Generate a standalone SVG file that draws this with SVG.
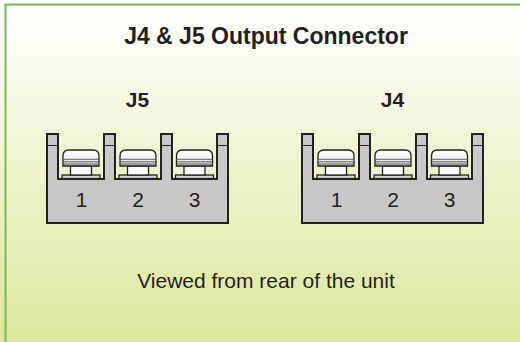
<svg xmlns="http://www.w3.org/2000/svg" width="520" height="342" viewBox="0 0 520 342">
<defs>
<linearGradient id="bg" x1="0" y1="0" x2="0" y2="1">
<stop offset="0" stop-color="#ffffff"/>
<stop offset="0.12" stop-color="#fdfdf6"/>
<stop offset="0.5" stop-color="#eef3cd"/>
<stop offset="1" stop-color="#dce89c"/>
</linearGradient>
<linearGradient id="head" x1="0" y1="0" x2="0" y2="1">
<stop offset="0" stop-color="#ffffff"/>
<stop offset="0.5" stop-color="#f4f4f4"/>
<stop offset="1" stop-color="#cfcfcf"/>
</linearGradient>
<g id="screw">
<rect x="-19" y="175" width="38" height="3.5" fill="#d8d8d8" stroke="#231f20" stroke-width="1.3"/>
<rect x="-10.5" y="166" width="21" height="9" fill="#ffffff" stroke="#231f20" stroke-width="1.3"/>
<path d="M-18,166 V156 Q-18,150 -12,150 H12 Q18,150 18,156 V166 Z" fill="url(#head)" stroke="#231f20" stroke-width="1.3"/>
<path d="M-18,159.3 H18 M-18,161.8 H18 M-18,164 H18" stroke="#555" stroke-width="0.9" fill="none"/>
</g>
<g id="conn">
<path d="M0,0 H11 V45 H57 V0 H68 V45 H114 V0 H125 V45 H170 V0 H181 V89 H0 Z" fill="#c8c8c8" stroke="#231f20" stroke-width="2" stroke-linejoin="miter"/>
<path d="M0,11.5 H11 M57,11.5 H68 M114,11.5 H125 M170,11.5 H181" stroke="#231f20" stroke-width="1.2" fill="none"/>
</g>
</defs>
<style>
.t{font-family:"Liberation Sans",Arial,sans-serif;fill:#231f20;text-anchor:middle}
.b{font-weight:bold}
.num{font-size:21px}
</style>
<rect x="0" y="0" width="520" height="342" fill="url(#bg)"/>
<path d="M5.5,342 V4.5 H520" fill="none" stroke="#7ab85c" stroke-width="2"/>
<text class="t b" x="266" y="44" font-size="23">J4 &amp; J5 Output Connector</text>
<g id="J5">
<text class="t b" x="137.5" y="107" font-size="21">J5</text>
<use href="#conn" x="47" y="134"/>
<use href="#screw" x="81" y="0"/>
<use href="#screw" x="138" y="0"/>
<use href="#screw" x="194.5" y="0"/>
<text class="t num" x="81.5" y="207">1</text>
<text class="t num" x="138" y="207">2</text>
<text class="t num" x="194.5" y="207">3</text>
</g>
<g id="J4">
<text class="t b" x="392.5" y="107" font-size="21">J4</text>
<use href="#conn" x="302" y="134"/>
<use href="#screw" x="336" y="0"/>
<use href="#screw" x="393" y="0"/>
<use href="#screw" x="449.5" y="0"/>
<text class="t num" x="336.5" y="207">1</text>
<text class="t num" x="393" y="207">2</text>
<text class="t num" x="449.5" y="207">3</text>
</g>
<g id="connectors"/>
<text class="t" x="266" y="288" font-size="21">Viewed from rear of the unit</text>
</svg>
